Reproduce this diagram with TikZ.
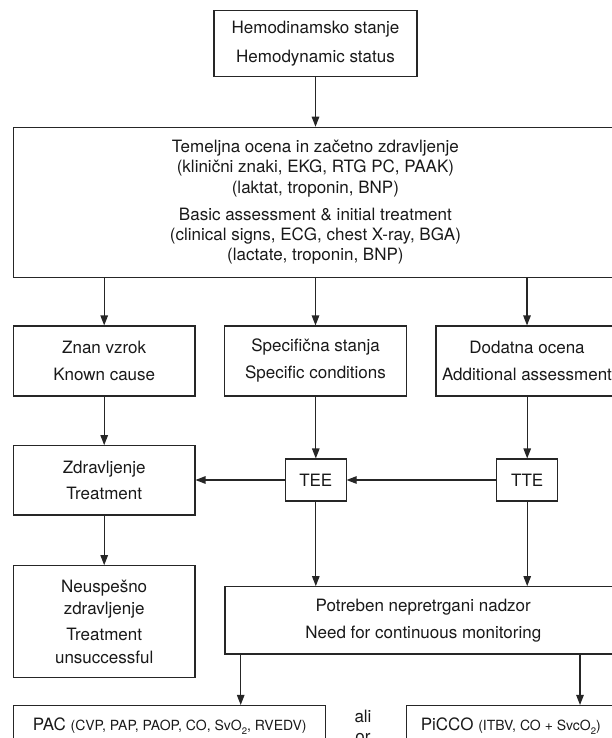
\documentclass[tikz,border=0pt]{standalone}
\usepackage{fontspec}
\setmainfont{TeX Gyre Heros}
\usetikzlibrary{arrows.meta}
\newcommand\subtwo{\raisebox{-0.55ex}{\fontsize{9.5}{10}\selectfont 2}}
\newcommand\smallpar{\fontsize{14}{16}\selectfont}
\begin{document}
\begin{tikzpicture}[x=1pt,y=-1pt,
  box/.style={draw=black!85,line width=1.1pt,rectangle,inner sep=0pt,align=center,font=\fontsize{17}{27}\selectfont,text=black!90},
  arr/.style={draw=black!85,line width=1.1pt,-{Triangle[width=7.5pt,length=10pt]}},
  lbl/.style={inner sep=0pt,font=\fontsize{17}{20}\selectfont,text=black!90}]
\useasboundingbox (0,0) rectangle (612,738);
\clip (0,0) rectangle (612,738);
\node[box,minimum width=203pt,minimum height=66pt,font=\fontsize{17}{28.4}\selectfont] (top) at (315.5,43.7) {Hemodinamsko stanje\\Hemodynamic status};
\node[box,minimum width=603.3pt,minimum height=150pt,font=\fontsize{17}{20.3}\selectfont] (big) at (315.4,202.3) {Temeljna ocena in začetno zdravljenje\\(klinični znaki, EKG, RTG PC, PAAK)\\(laktat, troponin, BNP)\\[7pt]Basic assessment \& initial treatment\\(clinical signs, ECG, chest X-ray, BGA)\\(lactate, troponin, BNP)};
\node[box,minimum width=181.5pt,minimum height=70pt] (known) at (104.2,361) {Znan vzrok\\Known cause};
\node[box,minimum width=182pt,minimum height=70pt] (spec) at (315.5,361) {Specifična stanja\\Specific conditions};
\node[box,minimum width=182pt,minimum height=70pt] (add) at (527,361) {Dodatna ocena\\Additional assessment};
\node[box,minimum width=181.5pt,minimum height=69.3pt,font=\fontsize{17}{26.7}\selectfont] (treat) at (104.2,480.3) {Zdravljenje\\Treatment};
\node[box,minimum width=60.5pt,minimum height=42pt] (tee) at (315.8,480) {TEE};
\node[box,minimum width=61pt,minimum height=42pt] (tte) at (527.2,480) {TTE};
\node[box,minimum width=181.5pt,minimum height=112pt,font=\fontsize{17}{22.7}\selectfont] (fail) at (104.2,621.7) {Neuspešno\\zdravljenje\\[3pt]Treatment\\unsuccessful};
\node[box,minimum width=396.7pt,minimum height=67.3pt,font=\fontsize{17}{26.7}\selectfont] (need) at (423.3,620.3) {Potreben nepretrgani nadzor\\Need for continuous monitoring};
\node[box,minimum width=312pt,minimum height=41pt] (pac) at (169.7,726) {PAC {\smallpar (CVP, PAP, PAOP, CO, SvO\subtwo, RVEDV)}};
\node[box,minimum width=208.3pt,minimum height=41pt] (picco) at (510.8,726) {PiCCO {\smallpar (ITBV, CO + SvcO\subtwo)}};
\node[lbl,anchor=base] (ali) at (363,722) {ali};
\node[lbl,anchor=base] (or) at (363,742.5) {or};
\coordinate (pa) at (240.7,0);
\coordinate (pc) at (580,0);
\draw[arr] (top.south) -- (top.south |- big.north);
\draw[arr] (known.north |- big.south) -- (known.north);
\draw[arr] (spec.north |- big.south) -- (spec.north);
\draw[arr] (add.north |- big.south) -- (add.north);
\draw[arr] (known.south) -- (treat.north);
\draw[arr] (tee.north |- spec.south) -- (tee.north);
\draw[arr] (tte.north |- add.south) -- (tte.north);
\draw[arr] (tte.west) -- (tee.east);
\draw[arr] (tee.west) -- (treat.east |- tee.west);
\draw[arr] (treat.south) -- (fail.north);
\draw[arr] (tee.south) -- (tee.south |- need.north);
\draw[arr] (tte.south) -- (tte.south |- need.north);
\draw[arr] (need.south -| pa) -- (pac.north -| pa);
\draw[arr] (need.south -| pc) -- (picco.north -| pc);
\end{tikzpicture}
\end{document}
